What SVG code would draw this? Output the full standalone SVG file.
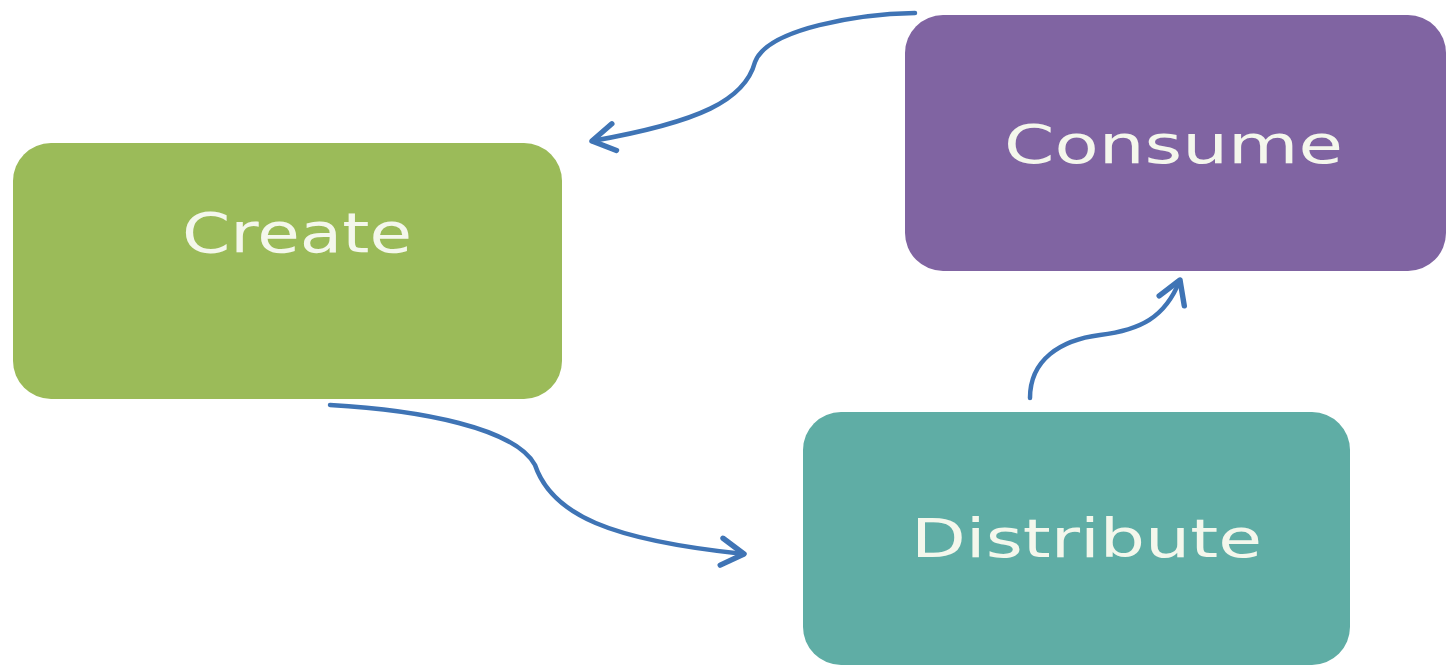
<svg xmlns="http://www.w3.org/2000/svg" width="1448" height="665" viewBox="0 0 1448 665">
<style>
.lbl{font-family:"DejaVu Sans",sans-serif;font-size:53px;fill:#F4F7EC;text-anchor:start}
.conn{fill:none;stroke:#3F74B5;stroke-width:4.5;stroke-linecap:round;marker-end:url(#arr)}
</style>
<defs>
<marker id="arr" markerWidth="8" markerHeight="8" refX="6" refY="4" orient="auto" markerUnits="strokeWidth" viewBox="0 0 8 8">
<polyline points="1,1 6,4 1,7" fill="none" stroke="#3F74B5" stroke-width="1.2" stroke-linecap="round" stroke-linejoin="round"/>
</marker>
</defs>
<rect width="1448" height="665" fill="#FFFFFF"/>
<g id="create">
<rect x="13" y="143" width="549" height="256" rx="38" fill="#9BBB59"/>
<text class="lbl" x="182" y="252" textLength="230" lengthAdjust="spacingAndGlyphs" style="font-size:55px">Create</text>
</g>
<g id="consume">
<rect x="905" y="15" width="541" height="256" rx="38" fill="#8064A2"/>
<text class="lbl" x="1004" y="163" textLength="339" lengthAdjust="spacingAndGlyphs">Consume</text>
</g>
<g id="distribute">
<rect x="803" y="412" width="547" height="253" rx="38" fill="#5FADA5"/>
<text class="lbl" x="911" y="557" textLength="351" lengthAdjust="spacingAndGlyphs">Distribute</text>
</g>
<g id="connectors">
<path class="conn" d="M915,13 C860,14 768,28 755,62 C745,100 700,122 592,141"/>
<path class="conn" d="M330,405 C420,410 515,428 535,465 C552,515 610,540 744,554"/>
<path class="conn" d="M1030,398 C1030,360 1060,340 1100,335 C1140,330 1165,318 1180,280"/>
</g>
</svg>
